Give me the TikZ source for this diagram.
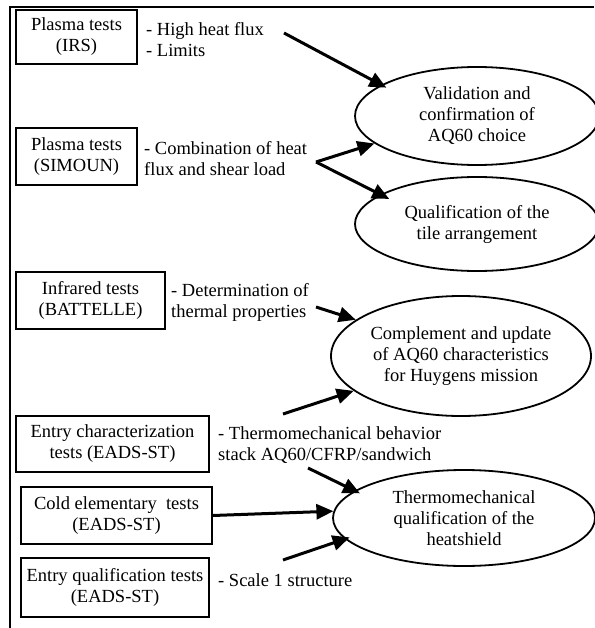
\documentclass[tikz,border=0pt]{standalone}
\usepackage{fontspec}
\setmainfont{Liberation Serif}
\usetikzlibrary{shapes.geometric,arrows.meta}
\begin{document}
\begin{tikzpicture}[x=1pt,y=-1pt,
  every node/.style={font=\fontsize{18.5}{21}\selectfont},
  testbox/.style={draw,line width=1.8pt,align=center,inner sep=0pt},
  goal/.style={draw,ellipse,line width=1.8pt,align=center,inner sep=0pt},
  note/.style={anchor=west,align=left,inner sep=0pt},
  arr/.style={line width=3pt,-{Triangle[length=17pt,width=15pt]}},
  frame/.style={line width=1.8pt}]
\useasboundingbox (0,0) rectangle (594,628);
% frame
\coordinate (fbl) at (10,628);
\coordinate (ftl) at (10,7);
\coordinate (ftr) at (594,7);
\draw[frame] (fbl) -- (ftl) -- (ftr);
% test boxes
\node[testbox,minimum width=121pt,minimum height=54pt] (irs) at (76.5,37) {Plasma tests\\(IRS)};
\node[testbox,minimum width=121pt,minimum height=57pt] (sim) at (76.5,156.5) {Plasma tests\\(SIMOUN)};
\node[testbox,minimum width=149pt,minimum height=57pt] (bat) at (90.5,300.5) {Infrared tests\\(BATTELLE)};
\node[testbox,minimum width=193pt,minimum height=56pt] (ech) at (112.5,444) {Entry characterization\\tests (EADS-ST)};
\node[testbox,minimum width=191pt,minimum height=57pt] (cold) at (116.5,515.5) {Cold elementary\ \ tests\\(EADS-ST)};
\node[testbox,minimum width=188pt,minimum height=59pt] (equ) at (115,587.5) {Entry qualification tests\\(EADS-ST)};
% notes
\node[note] (n1) at (146,40) {- High heat flux\\- Limits};
\node[note] (n2) at (144,159) {- Combination of heat\\flux and shear load};
\node[note] (n3) at (171,302) {- Determination of\\thermal properties};
\node[note] (n4) at (218,445) {- Thermomechanical behavior\\stack AQ60/CFRP/sandwich};
\node[note] (n5) at (218,580) {- Scale 1 structure};
% goals
\node[goal,minimum width=244pt,minimum height=98pt] (e1) at (477,116) {Validation and\\confirmation of\\AQ60 choice};
\node[goal,minimum width=244pt,minimum height=94pt] (e2) at (477,224) {Qualification of the\\tile arrangement};
\node[goal,minimum width=260pt,minimum height=120pt] (e3) at (461,356) {Complement and update\\of AQ60 characteristics\\for Huygens mission};
\node[goal,minimum width=262pt,minimum height=96pt] (e4) at (464,518) {Thermomechanical\\qualification of the\\heatshield};
% arrows
\coordinate (s1) at (284,33);
\coordinate (fork) at (316,162);
\coordinate (s3) at (316,307);
\coordinate (s4) at (283,414);
\coordinate (s5) at (308,468);
\coordinate (s6) at (283,560);
\draw[arr,shorten >=-6pt] (s1) -- (e1.162);
\draw[arr] (fork) -- (e1.195);
\draw[arr,shorten >=-10pt] (fork) -- (e2.163);
\draw[arr] (s3) -- (e3.161);
\draw[arr] (s4) -- (e3.198);
\draw[arr,shorten >=-6pt] (s5) -- (e4.166);
\draw[arr] (cold.east) -- (e4.177);
\draw[arr,shorten >=-5pt] (s6) -- (e4.190);
\end{tikzpicture}
\end{document}
